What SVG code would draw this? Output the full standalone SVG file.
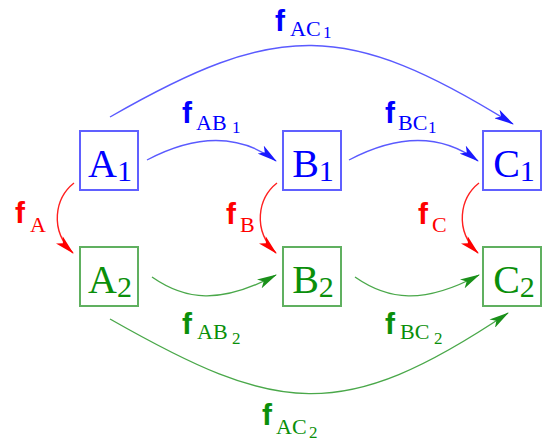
<svg xmlns="http://www.w3.org/2000/svg" width="542" height="441" viewBox="0 0 542 441">
<style>
.box{fill:#fff;stroke-width:2}
.b1{stroke:#6060ff}
.b2{stroke:#60b060}
.nt{font-family:"Liberation Serif","Times New Roman",serif;font-size:40px;text-anchor:middle}
.nt .sub{font-size:30px}
.tb{fill:#0000ff}
.tg{fill:#0a8f0a}
.tr{fill:#ff0000}
.lab{font-family:"Liberation Serif","Times New Roman",serif}
.lab .f{font-family:"Liberation Sans",Arial,sans-serif;font-weight:bold;font-size:30px}
.lab .s{font-size:22px}
.lab .n{font-size:17px}
.c{fill:none;stroke-width:1.4}
.cb{stroke:#5a5aff}
.cg{stroke:#4aa84a}
.cr{stroke:#ff2020}
</style>
<defs>
<marker id="ab" markerUnits="userSpaceOnUse" markerWidth="20" markerHeight="10" viewBox="0 0 20 10" refX="19" refY="5" orient="auto"><path d="M0,0 L20,5 L0,10 L5,5 z" fill="#1a1aff"/></marker>
<marker id="ag" markerUnits="userSpaceOnUse" markerWidth="20" markerHeight="10" viewBox="0 0 20 10" refX="19" refY="5" orient="auto"><path d="M0,0 L20,5 L0,10 L5,5 z" fill="#1a901a"/></marker>
<marker id="ar" markerUnits="userSpaceOnUse" markerWidth="20" markerHeight="10" viewBox="0 0 20 10" refX="19" refY="5" orient="auto"><path d="M0,0 L20,5 L0,10 L5,5 z" fill="#ff0000"/></marker>
</defs>
<rect width="542" height="441" fill="#fff"/>
<g id="connectors">
<path class="c cb" d="M110,117 C277,21 346,20 513,124" marker-end="url(#ab)"/>
<path class="c cb" d="M147,160 C185,140 232,128 276,161" marker-end="url(#ab)"/>
<path class="c cb" d="M349,160 C387,140 434,128 478,161" marker-end="url(#ab)"/>
<path class="c cr" d="M74,183 C55,198 49,230 73,253" marker-end="url(#ar)"/>
<path class="c cr" d="M277,183 C258,198 252,230 276,253" marker-end="url(#ar)"/>
<path class="c cr" d="M479,183 C460,198 454,230 478,253" marker-end="url(#ar)"/>
<path class="c cg" d="M152,277 C185,300 220,305 276,275" marker-end="url(#ag)"/>
<path class="c cg" d="M355,277 C388,300 423,305 479,275" marker-end="url(#ag)"/>
<path class="c cg" d="M110,319 C277,414 341,425 508,313" marker-end="url(#ag)"/>
</g>
<g id="labels">
<text class="lab tb"><tspan class="f" x="275" y="31">f</tspan><tspan class="s" x="290" y="36">AC</tspan><tspan class="n" x="323" y="38">1</tspan></text>
<text class="lab tb"><tspan class="f" x="182" y="123">f</tspan><tspan class="s" x="196" y="130">AB</tspan><tspan class="n" x="232" y="133">1</tspan></text>
<text class="lab tb"><tspan class="f" x="385" y="123">f</tspan><tspan class="s" x="398" y="130">BC</tspan><tspan class="n" x="428" y="133">1</tspan></text>
<text class="lab tr"><tspan class="f" x="15" y="223">f</tspan><tspan class="s" x="30" y="232">A</tspan></text>
<text class="lab tr"><tspan class="f" x="226" y="224">f</tspan><tspan class="s" x="240" y="232">B</tspan></text>
<text class="lab tr"><tspan class="f" x="418" y="224">f</tspan><tspan class="s" x="432" y="232">C</tspan></text>
<text class="lab tg"><tspan class="f" x="182" y="334">f</tspan><tspan class="s" x="197" y="339">AB</tspan><tspan class="n" x="232" y="344">2</tspan></text>
<text class="lab tg"><tspan class="f" x="385" y="334">f</tspan><tspan class="s" x="400" y="339">BC</tspan><tspan class="n" x="434" y="344">2</tspan></text>
<text class="lab tg"><tspan class="f" x="262" y="425">f</tspan><tspan class="s" x="276" y="434">AC</tspan><tspan class="n" x="309" y="438">2</tspan></text>
</g>
<g id="A1"><rect class="box b1" x="80" y="131" width="58" height="59"/><text class="nt tb" x="110" y="177">A<tspan class="sub" dy="4">1</tspan></text></g>
<g id="B1"><rect class="box b1" x="283" y="131" width="58" height="59"/><text class="nt tb" x="313" y="177">B<tspan class="sub" dy="4">1</tspan></text></g>
<g id="C1"><rect class="box b1" x="483" y="131" width="58" height="59"/><text class="nt tb" x="514" y="177">C<tspan class="sub" dy="4">1</tspan></text></g>
<g id="A2"><rect class="box b2" x="80" y="247" width="58" height="59"/><text class="nt tg" x="110" y="293">A<tspan class="sub" dy="4">2</tspan></text></g>
<g id="B2"><rect class="box b2" x="283" y="247" width="58" height="59"/><text class="nt tg" x="313" y="293">B<tspan class="sub" dy="4">2</tspan></text></g>
<g id="C2"><rect class="box b2" x="483" y="247" width="58" height="59"/><text class="nt tg" x="514" y="293">C<tspan class="sub" dy="4">2</tspan></text></g>
</svg>
